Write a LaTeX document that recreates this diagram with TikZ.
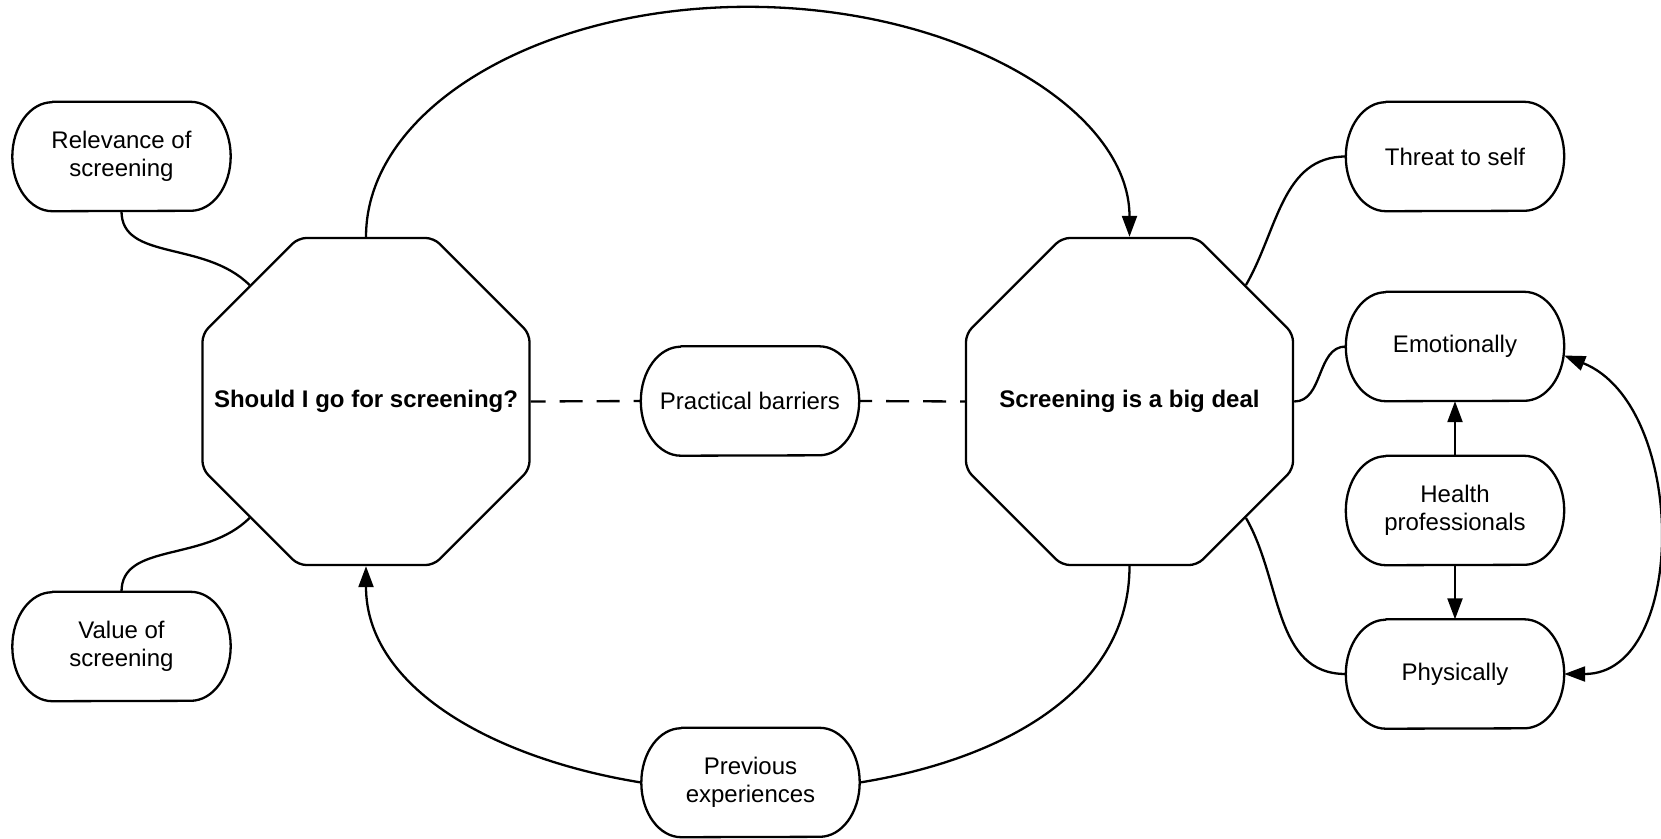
\documentclass[tikz,border=0pt]{standalone}
\usepackage{fontspec}
\setmainfont{Liberation Sans}
\usetikzlibrary{shapes.geometric,arrows.meta,calc}

% outline of a terminator box with half-elliptical ends, drawn round a named node
\newcommand\pillborder[1]{%
  \draw[line] ([xshift=40pt]#1.north west) -- ([xshift=-40pt]#1.north east)
    arc[start angle=90,end angle=-90,x radius=40pt,y radius=54.5pt]
    -- ([xshift=40pt]#1.south west)
    arc[start angle=270,end angle=90,x radius=40pt,y radius=54.5pt] -- cycle;}

\begin{document}
\begin{tikzpicture}[x=1pt,y=1pt,
  line/.style={line width=2.3pt,line join=round},
  pill/.style={minimum width=218pt,minimum height=109pt,inner sep=0pt,
    align=center,font=\fontsize{24}{28}\selectfont},
  octa/.style={draw,line,regular polygon,regular polygon sides=8,
    minimum size=354pt,inner sep=0pt,rounded corners=8pt,
    font=\fontsize{24}{28}\selectfont\bfseries},
  arrowlink/.style={line,-{Triangle[length=21pt,width=15pt]}},
  bothlink/.style={line,{Triangle[length=21pt,width=15pt]}-{Triangle[length=21pt,width=15pt]}},
  gap/.style={line,dash pattern=on 23pt off 14pt},
]
\useasboundingbox (0,0) rectangle (1661,-838);
\fill[white] (0,0) rectangle (1661,-838);

% central themes
\node[octa] (lo) at (366,-401.5) {\makebox[0pt]{Should I go for screening?}};
\node[octa] (ro) at (1129.5,-401.5) {\makebox[0pt]{Screening is a big deal}};

% sub-themes
\node[pill] (rel) at (121.5,-156.5) {Relevance of\\screening};
\node[pill] (val) at (121.5,-646.5) {Value of\\screening};
\node[pill] (pb)  at (750,-401) {Practical barriers};
\node[pill] (pe)  at (750.5,-782.5) {Previous\\experiences};
\node[pill] (tts) at (1455,-156.5) {Threat to self};
\node[pill] (em)  at (1455,-346.5) {Emotionally};
\node[pill] (hp)  at (1455,-510.5) {Health\\professionals};
\node[pill] (phy) at (1455,-674) {Physically};

\foreach \n in {rel,val,pb,pe,tts,em,hp,phy} {\pillborder{\n}}

% loop between the two central themes
\coordinate (arctop) at ($(lo.90)!0.5!(ro.90)+(0,230)$);
\draw[arrowlink] (lo.90) .. controls +(0,127) and +(-211,0) .. (arctop)
  .. controls +(211,0) and +(0,127) .. (ro.90);
\draw[line] (ro.270) .. controls +(0,-121) and +(149,24) .. (pe.east);
\draw[arrowlink] (pe.west) .. controls +(-149,24) and +(0,-121) .. (lo.270);

% practical barriers
\draw[gap,dash phase=8pt] (lo.0) -- (pb.west);
\draw[gap,dash phase=10pt] (pb.east) -- (ro.180);

% left branches
\draw[line] (rel.south) .. controls +(0,-50) and +(-45,45) .. (lo.135);
\draw[line] (val.north) .. controls +(0,50) and +(-45,-45) .. (lo.225);

% right branches
\draw[line] (ro.45) to[out=60,in=180] (tts.west);
\draw[line] (ro.0) to[out=0,in=180] (em.west);
\draw[line] (ro.-45) to[out=-60,in=180] (phy.west);
\draw[arrowlink] (hp.north) -- (em.south);
\draw[arrowlink] (hp.south) -- (phy.north);
\draw[bothlink] ([yshift=-9pt]em.east) .. controls +(124,-50) and +(124,0) .. (phy.east);
\end{tikzpicture}
\end{document}
